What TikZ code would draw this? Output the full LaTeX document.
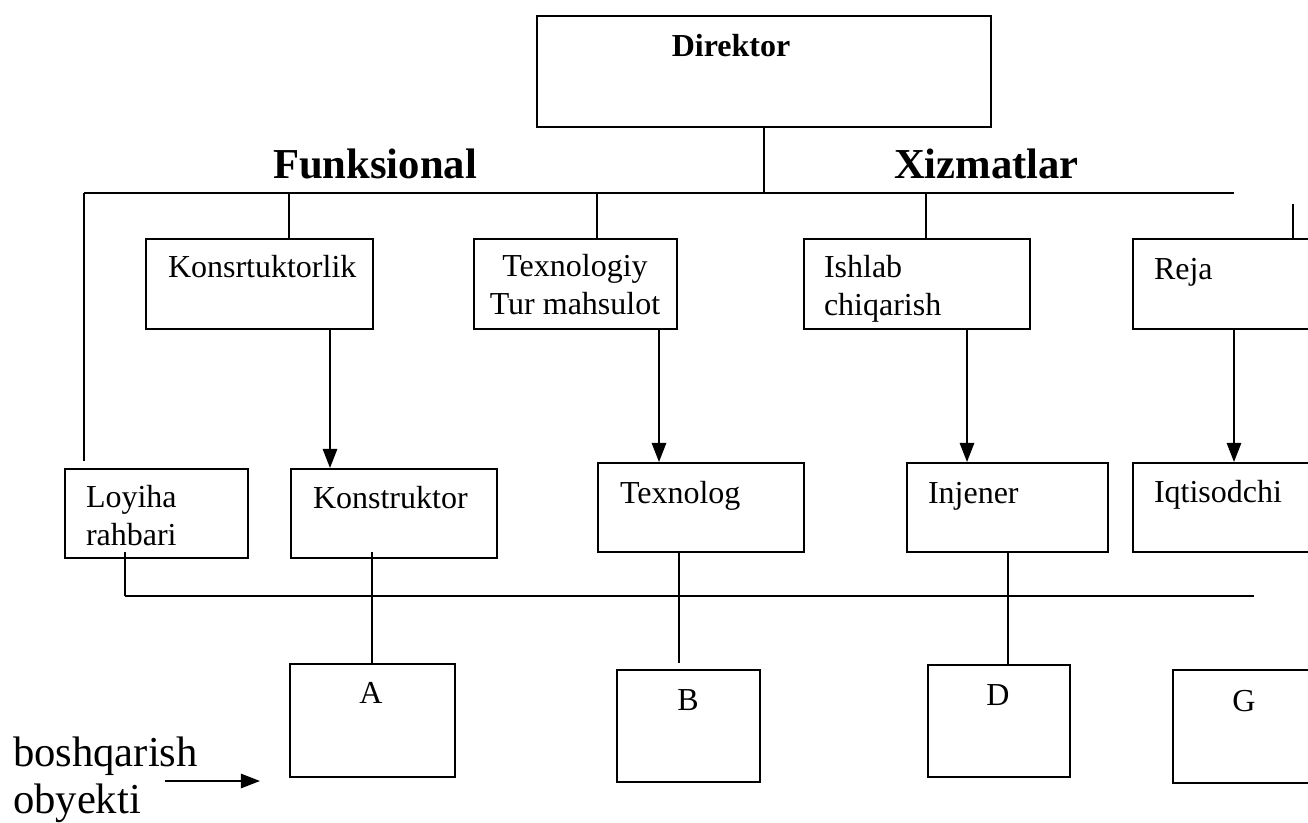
\documentclass[tikz,border=0pt]{standalone}
\usepackage{fontspec}
\setmainfont{Liberation Serif}
\usetikzlibrary{arrows.meta}

\def\px{0.375pt}

\begin{document}
\begin{tikzpicture}[x=\px, y=-\px, line width=0.75pt,
  box/.style={draw, inner sep=0pt, anchor=north west},
  txt/.style={anchor=base west, inner sep=0pt, align=left, font=\fontsize{12}{13.9}\selectfont},
  big/.style={anchor=base west, inner sep=0pt, align=left, font=\fontsize{16}{17.3}\selectfont},
  arr/.style={-{Triangle[length=7.2pt,width=5.4pt]}}]
  \useasboundingbox (0,0) rectangle (1308,822);
  \clip (0,0) rectangle (1308,822);

  % top
  \node[box, minimum width=454*\px, minimum height=111*\px] (dirb) at (536,15) {};
  \node[txt, anchor=base, font=\fontsize{12}{13.9}\selectfont\bfseries] (dirt) at (731,56) {Direktor};
  \node[big, font=\fontsize{16}{17.3}\selectfont\bfseries] (funk) at (272,178) {Funksional};
  \node[big, font=\fontsize{16}{17.3}\selectfont\bfseries] (xiz) at (893,178) {Xizmatlar};

  \coordinate (tl) at (84,193);
  \coordinate (tr) at (1234,193);
  \draw (dirb.south) -- (dirb.south |- tl);
  \draw (tl) -- (tr);

  % first row
  \node[box, minimum width=227*\px, minimum height=90*\px] (konsb) at (145,238) {};
  \node[box, minimum width=203*\px, minimum height=90*\px] (texsb) at (473,238) {};
  \node[box, minimum width=226*\px, minimum height=90*\px] (ishb) at (803,238) {};
  \node[box, minimum width=226*\px, minimum height=90*\px] (rejab) at (1132,238) {};

  \node[txt] (konst) at (167,277) {Konsrtuktorlik};
  \node[txt, anchor=base, align=center] (texst) at (575,314) {Texnologiy\\Tur mahsulot};
  \node[txt] (isht) at (823,315) {Ishlab\\chiqarish};
  \node[txt] (rejat) at (1153,279) {Reja};

  \coordinate (d1) at (289,193);
  \coordinate (d2) at (597,193);
  \coordinate (d3) at (926,193);
  \coordinate (d4) at (1293,204);
  \draw (d1) -- (d1 |- konsb.north);
  \draw (d2) -- (d2 |- texsb.north);
  \draw (d3) -- (d3 |- ishb.north);
  \draw (d4) -- (d4 |- rejab.north);
  \draw (tl) -- (84,461);

  % second row
  \node[box, minimum width=183*\px, minimum height=89*\px] (loyb) at (64,468) {};
  \node[box, minimum width=206*\px, minimum height=89*\px] (konb) at (290,468) {};
  \node[box, minimum width=206*\px, minimum height=89*\px] (texb) at (597,462) {};
  \node[box, minimum width=201*\px, minimum height=89*\px] (injb) at (906,462) {};
  \node[box, minimum width=226*\px, minimum height=89*\px] (iqtb) at (1132,462) {};

  \node[txt] (loyt) at (85,545) {Loyiha\\rahbari};
  \node[txt] (kont) at (312,508) {Konstruktor};
  \node[txt] (text) at (619,503) {Texnolog};
  \node[txt] (injt) at (927,503) {Injener};
  \node[txt] (iqtt) at (1153,502) {Iqtisodchi};

  \coordinate (a1) at (330,0);
  \coordinate (a2) at (659,0);
  \coordinate (a3) at (967,0);
  \coordinate (a4) at (1234,0);
  \draw[arr] (konsb.south -| a1) -- (konb.north -| a1);
  \draw[arr] (texsb.south -| a2) -- (texb.north -| a2);
  \draw[arr] (ishb.south -| a3) -- (injb.north -| a3);
  \draw[arr] (rejab.south -| a4) -- (iqtb.north -| a4);

  % third row
  \node[box, minimum width=165*\px, minimum height=113*\px] (ab) at (289,663) {};
  \node[box, minimum width=143*\px, minimum height=112*\px] (bb) at (616,669) {};
  \node[box, minimum width=142*\px, minimum height=112*\px] (db) at (927,664) {};
  \node[box, minimum width=200*\px, minimum height=113*\px] (gb) at (1172,669) {};

  \node[txt, anchor=base] (at) at (371,703) {A};
  \node[txt, anchor=base] (bt) at (688,710) {B};
  \node[txt, anchor=base] (dt) at (998,705) {D};
  \node[txt, anchor=base] (gt) at (1244,711) {G};

  \coordinate (bl) at (125,596);
  \coordinate (br) at (1254,596);
  \coordinate (c1) at (372,552);
  \coordinate (c2) at (679,551);
  \coordinate (c3) at (1008,551);
  \draw (bl) -- (br);
  \draw (bl) -- (125,552);
  \draw (c1) -- (c1 |- ab.north);
  \draw (c2) -- (679,663);
  \draw (c3) -- (c3 |- db.north);

  % object
  \node[big] (obj) at (12,813) {boshqarish\\obyekti};
  \coordinate (o1) at (165,781);
  \draw[arr] (o1) -- (260,781);
\end{tikzpicture}
\end{document}
